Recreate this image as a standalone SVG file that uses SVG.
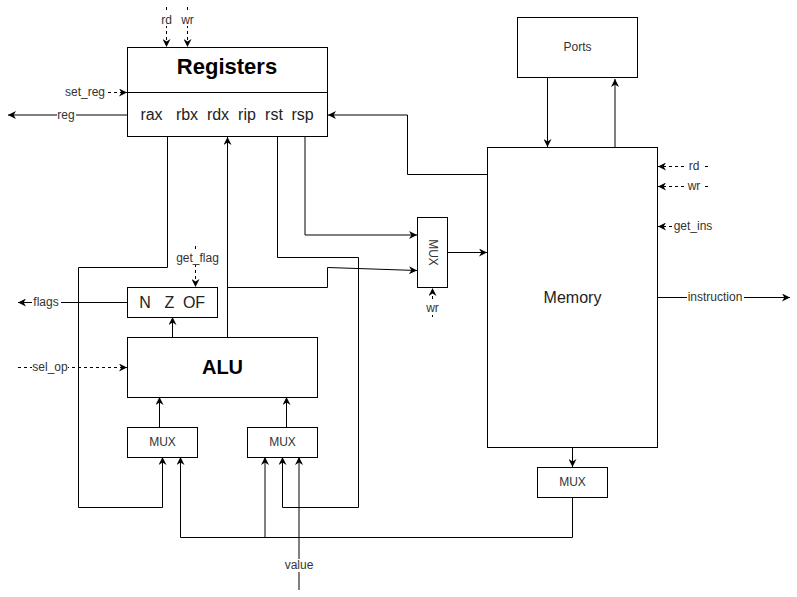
<svg xmlns="http://www.w3.org/2000/svg" width="797" height="597" viewBox="0 0 797 597">
<defs>
<style>
.box{fill:#fff;stroke:#000;stroke-width:1}
.ln{fill:none;stroke:#000;stroke-width:1}
.arr{marker-end:url(#ah)}
.dash{stroke-dasharray:3 3}
.bg{fill:#fff;stroke:none}
.lbl{font-family:"Liberation Sans",Arial,sans-serif;font-size:12px;fill:#333;text-anchor:middle}
.big{font-family:"Liberation Sans",Arial,sans-serif;font-size:16px;fill:#222;text-anchor:middle}
.title{font-family:"Liberation Sans",Arial,sans-serif;font-weight:bold;fill:#000;text-anchor:middle}
</style>
<marker id="ah" viewBox="0 0 10 10" refX="10" refY="5" markerWidth="8" markerHeight="8" markerUnits="userSpaceOnUse" orient="auto"><path d="M0,0 L10,5 L0,10 L3,5 z" fill="#000"/></marker>
</defs>
<rect width="797" height="597" fill="#fff"/>
<g id="connectors">
<path class="ln dash arr" d="M166.5,7 V47"/>
<path class="ln dash arr" d="M187.5,7 V47"/>
<path class="ln dash arr" d="M66,92.5 H127"/>
<path class="ln arr" d="M127,115 H8"/>
<path class="ln arr" d="M167.5,137 V267.5 H78.5 V507.5 H162.5 V457"/>
<path class="ln arr" d="M227.5,337 V137"/>
<path class="ln arr" d="M227.5,287.5 H327.5 V267.5 L417,270.5"/>
<path class="ln arr" d="M277.5,137 V257.5 H358.5 V507.5 H282.5 V457"/>
<path class="ln arr" d="M305,137 V235 H417"/>
<path class="ln arr" d="M487,174.5 H407.5 V115 H328"/>
<path class="ln arr" d="M447,252.5 H487"/>
<path class="ln dash arr" d="M432.5,317 V288"/>
<path class="ln arr" d="M547.5,77 V147"/>
<path class="ln arr" d="M615,147 V79"/>
<path class="ln dash arr" d="M708,166.5 H658"/>
<path class="ln dash arr" d="M708,186.5 H658"/>
<path class="ln dash arr" d="M690,226.5 H658"/>
<path class="ln arr" d="M658,297.5 H790"/>
<path class="ln arr" d="M572.5,447 V467"/>
<path class="ln arr" d="M572.5,497 V537.5 H180.5 V457"/>
<path class="ln arr" d="M265,537 V457"/>
<path class="ln arr" d="M299,590 V457"/>
<path class="ln dash arr" d="M195.5,246 V287"/>
<path class="ln arr" d="M127,302.5 H18"/>
<path class="ln arr" d="M172.5,337 V317"/>
<path class="ln dash arr" d="M18,367.5 H127"/>
<path class="ln arr" d="M159.5,427 V397"/>
<path class="ln arr" d="M286.5,427 V397"/>
<rect class="bg" x="159" y="13" width="15" height="13"/><text class="lbl" x="166.5" y="24">rd</text>
<rect class="bg" x="180" y="13" width="15" height="13"/><text class="lbl" x="187.5" y="24">wr</text>
<rect class="bg" x="64" y="86" width="42" height="13"/><text class="lbl" x="85" y="96">set_reg</text>
<rect class="bg" x="57" y="109" width="19" height="13"/><text class="lbl" x="66" y="119">reg</text>
<rect class="bg" x="176" y="252" width="43" height="13"/><text class="lbl" x="197.5" y="262">get_flag</text>
<rect class="bg" x="32" y="296" width="29" height="13"/><text class="lbl" x="46" y="306">flags</text>
<rect class="bg" x="32" y="361" width="36" height="13"/><text class="lbl" x="50" y="371">sel_op</text>
<rect class="bg" x="424" y="302" width="17" height="13"/><text class="lbl" x="432.5" y="312">wr</text>
<rect class="bg" x="686" y="160" width="16" height="13"/><text class="lbl" x="694" y="170">rd</text>
<rect class="bg" x="686" y="180" width="16" height="13"/><text class="lbl" x="694" y="190">wr</text>
<rect class="bg" x="672" y="220" width="42" height="13"/><text class="lbl" x="693" y="230">get_ins</text>
<rect class="bg" x="687" y="291" width="57" height="13"/><text class="lbl" x="715" y="301">instruction</text>
<rect class="bg" x="284" y="559" width="30" height="13"/><text class="lbl" x="299" y="569">value</text>
</g>
<g id="registers">
<rect class="box" x="127.5" y="47.5" width="200" height="89"/>
<line class="ln" x1="127.5" y1="92.5" x2="327.5" y2="92.5"/>
<text class="title" x="227" y="74" font-size="22">Registers</text>
<text class="big" y="120"><tspan x="151.5">rax</tspan><tspan x="187">rbx</tspan><tspan x="218">rdx</tspan><tspan x="247">rip</tspan><tspan x="274">rst</tspan><tspan x="302.5">rsp</tspan></text>
</g>
<g id="ports">
<rect class="box" x="517.5" y="17.5" width="120" height="60"/>
<text class="lbl" x="577.5" y="51">Ports</text>
</g>
<g id="memory">
<rect class="box" x="487.5" y="147.5" width="170" height="300"/>
<text class="big" x="572.5" y="303" fill="#333">Memory</text>
</g>
<g id="mux-mem-in">
<rect class="box" x="417.5" y="217.5" width="30" height="70"/>
<text class="lbl" transform="translate(432.5,252.5) rotate(90)" x="0" y="4">MUX</text>
</g>
<g id="flags">
<rect class="box" x="127.5" y="287.5" width="90" height="30"/>
<text class="big" y="308"><tspan x="145">N</tspan><tspan x="169.5">Z</tspan><tspan x="194">OF</tspan></text>
</g>
<g id="alu">
<rect class="box" x="127.5" y="337.5" width="190" height="60"/>
<text class="title" x="222.5" y="374" font-size="20">ALU</text>
</g>
<g id="mux1">
<rect class="box" x="127.5" y="427.5" width="70" height="30"/>
<text class="lbl" x="162.5" y="446">MUX</text>
</g>
<g id="mux2">
<rect class="box" x="247.5" y="427.5" width="70" height="30"/>
<text class="lbl" x="282.5" y="446">MUX</text>
</g>
<g id="mux-mem-out">
<rect class="box" x="537.5" y="467.5" width="70" height="30"/>
<text class="lbl" x="572.5" y="486">MUX</text>
</g>
</svg>
